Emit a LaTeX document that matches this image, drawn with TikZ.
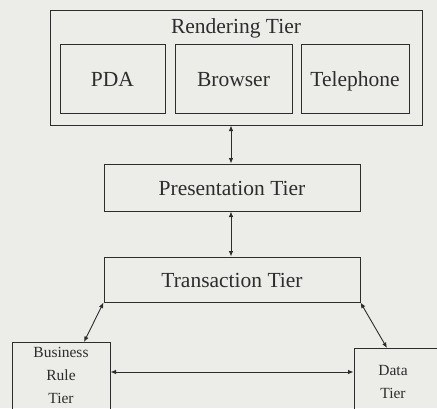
\documentclass[tikz,border=0pt]{standalone}
\usepackage{fontspec}
\setmainfont{Liberation Serif}
\usetikzlibrary{arrows.meta}
\definecolor{bg}{RGB}{236,236,233}
\definecolor{ink}{RGB}{45,45,45}
\begin{document}
\begin{tikzpicture}[x=1pt,y=-1pt,
  box/.style={draw=ink,line width=1pt,inner sep=0pt},
  lbl/.style={text=ink,font=\fontsize{21.5}{24}\selectfont,text height=17.5pt,text depth=2.5pt},
  small/.style={text=ink,font=\fontsize{15.5}{23}\selectfont,align=center},
  link/.style={draw=ink,line width=0.9pt,{Latex[length=5.5pt,width=4.5pt]}-{Latex[length=5.5pt,width=4.5pt]}}]
\fill[bg] (0,0) rectangle (437,408);
\useasboundingbox (0,0) rectangle (437,408);
% Rendering tier
\node[box,minimum width=372pt,minimum height=115pt] (rt) at (236,67.5) {};
\node[lbl] (rtl) at (236,26) {Rendering Tier};
\node[box,minimum width=105pt,minimum height=69pt,lbl] (pda) at (112.5,78.5) {PDA};
\node[box,minimum width=117pt,minimum height=69pt,lbl] (br) at (233.5,78.5) {Browser};
\node[box,minimum width=108pt,minimum height=69pt,lbl] (tel) at (355,78.5) {Telephone};
% Presentation & Transaction
\node[box,minimum width=256pt,minimum height=47pt,lbl] (pt) at (232,187.5) {Presentation Tier};
\node[box,minimum width=256pt,minimum height=45pt,lbl] (tt) at (232,279.5) {Transaction Tier};
% Business and Data
\node[box,minimum width=98pt,minimum height=70pt] (bt) at (61,377) {};
\node[small] (btl) at (61,375) {Business\\Rule\\Tier};
\node[box,minimum width=86pt,minimum height=64pt] (dt) at (397,380) {};
\node[small] (dtl) at (393,382) {Data\\Tier};
% connectors
\draw[link] (rt.south -| 231,0) -- (pt.north -| 231,0);
\draw[link] (pt.south -| 231,0) -- (tt.north -| 231,0);
\draw[link] (tt.south west) -- (84,342);
\draw[link] (tt.south east) -- (387,348);
\draw[link] (bt.east |- 0,372) -- (dt.west |- 0,372);
\end{tikzpicture}
\end{document}
